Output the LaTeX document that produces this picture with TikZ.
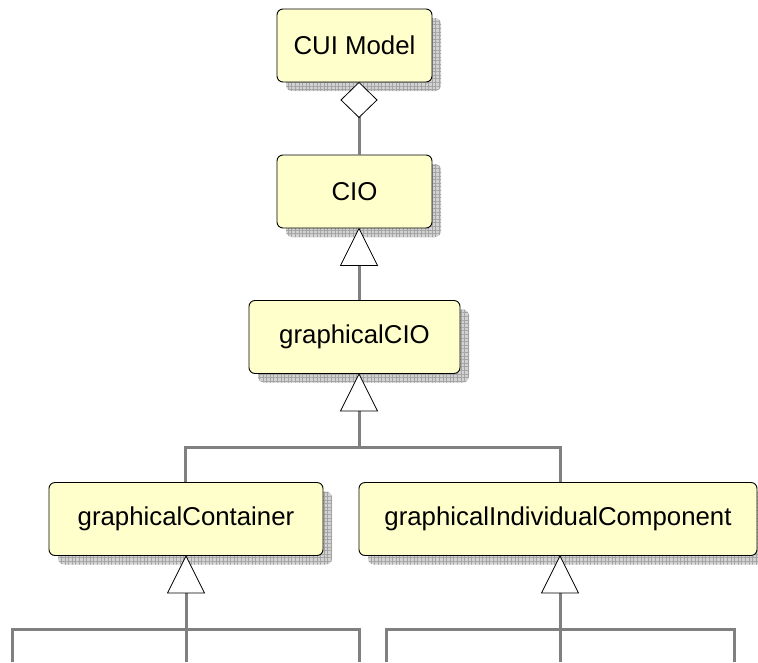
\documentclass[tikz,border=0pt]{standalone}
\usepackage{fontspec}
\setmainfont{Liberation Sans}
\usetikzlibrary{patterns.meta}
\definecolor{boxfill}{HTML}{FFFFCC}
\definecolor{linkgray}{HTML}{808080}
\definecolor{shadowbg}{HTML}{D2D2D2}
\definecolor{shadowgrid}{HTML}{A4A4A4}
\begin{document}
\begin{tikzpicture}[x=1pt,y=-1pt,
  umlclass/.style={draw=black, line width=0.9pt, fill=boxfill, rounded corners=6pt,
    minimum height=73pt, inner sep=0pt, font=\fontsize{25.8}{30}\selectfont,
    preaction={draw=none, fill=shadowbg, transform canvas={shift={(9pt,-9pt)}}},
    preaction={draw=none, pattern={Lines[angle=0, distance=3.6pt, line width=0.6pt]},
      pattern color=shadowgrid, transform canvas={shift={(9pt,-9pt)}}},
    preaction={draw=none, pattern={Lines[angle=90, distance=3.6pt, line width=0.6pt]},
      pattern color=shadowgrid, transform canvas={shift={(9pt,-9pt)}}}},
  link/.style={draw=linkgray, line width=3pt},
  head/.style={draw=black, line width=0.8pt, fill=white, line join=miter}]
\useasboundingbox (0,0) rectangle (758,662);

% classes
\node[umlclass, minimum width=155pt] (cui)   at (354.5,45.5) {CUI Model};
\node[umlclass, minimum width=155pt] (cio)   at (354.5,191.5) {CIO};
\node[umlclass, minimum width=211pt] (gcio)  at (354.5,337) {graphicalCIO};
\node[umlclass, minimum width=274pt] (gcont) at (186,519) {graphicalContainer};
\node[umlclass, minimum width=398pt] (gind)  at (558,519) {graphicalIndividualComponent};

% anchor points of the relations
\coordinate (aggtip)  at ([xshift=4.5pt]cui.south);
\coordinate (aggend)  at ([xshift=4.5pt,yshift=-35pt]cui.south);
\coordinate (tcio)    at ([xshift=4.5pt]cio.south);
\coordinate (tgcio)   at ([xshift=4.5pt]gcio.south);
\coordinate (tgcont)  at (gcont.south);
\coordinate (tgind)   at ([xshift=2pt]gind.south);

% children below the containers (leaving the page)
\coordinate (l1) at (12,662);
\coordinate (l2) at (186,662);
\coordinate (l3) at (359,662);
\coordinate (r1) at (386,662);
\coordinate (r2) at (560,662);
\coordinate (r3) at (734,662);

% aggregation CUI Model <>-- CIO
\draw[link] (aggend) -- ([xshift=4.5pt]cio.north);
\draw[head] (aggtip) -- ++(18,17.5) -- ++(-18,17.5) -- ++(-18,-17.5) -- cycle;

% CIO <|-- graphicalCIO
\draw[link] ([yshift=-37pt]tcio) -- ([xshift=4.5pt]gcio.north);
\draw[head] (tcio) -- ++(18.5,37) -- ++(-37,0) -- cycle;

% graphicalCIO <|-- graphicalContainer, graphicalIndividualComponent
\coordinate (j1) at ([yshift=-74pt]tgcio);
\draw[link] ([yshift=-37pt]tgcio) -- (j1);
\draw[link] ([xshift=-1pt]gcont.north) |- (j1) -| ([xshift=2pt]gind.north);
\draw[head] (tgcio) -- ++(18.5,37) -- ++(-37,0) -- cycle;

% graphicalContainer subtree
\coordinate (jl) at ([yshift=-74pt]tgcont);
\draw[link] ([yshift=-37pt]tgcont) -- (l2);
\draw[link] (l1) |- (jl) -| (l3);
\draw[head] (tgcont) -- ++(18.5,37) -- ++(-37,0) -- cycle;

% graphicalIndividualComponent subtree
\coordinate (jr) at ([yshift=-74pt]tgind);
\draw[link] ([yshift=-37pt]tgind) -- (r2);
\draw[link] (r1) |- (jr) -| (r3);
\draw[head] (tgind) -- ++(18.5,37) -- ++(-37,0) -- cycle;
\end{tikzpicture}
\end{document}
